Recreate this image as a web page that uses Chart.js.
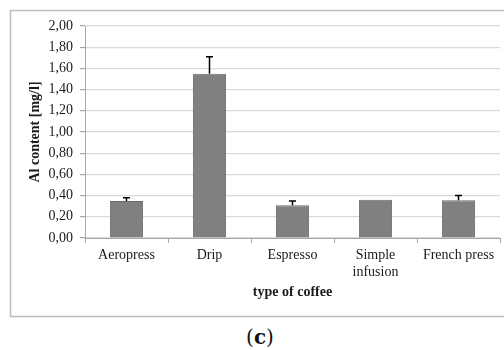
<!DOCTYPE html>
<html>
<head>
<meta charset="utf-8">
<script src="https://cdn.jsdelivr.net/npm/chart.js@4/dist/chart.umd.min.js"></script>
<style>
  html, body { margin: 0; padding: 0; background: #fff; }
  #wrap { position: relative; width: 504px; height: 350px; overflow: hidden; }
  #c { position: absolute; left: 0; top: 0; }
  #cap { position: absolute; left: 0; width: 520px; top: 325px; text-align: center; line-height: 24px;
         font-family: "DejaVu Serif", "Liberation Serif", serif; font-size: 20px; color: #111; }
  #cap b { font-weight: bold; }
</style>
</head>
<body>
<div id="wrap">
  <canvas id="c" width="504" height="318"></canvas>
  <div id="cap">(<b>c</b>)</div>
</div>
<script>
const categories = ["Aeropress", "Drip", "Espresso", ["Simple", "infusion"], "French press"];
const alContent = [0.35, 1.55, 0.31, 0.36, 0.355];
const alError = [0.03, 0.16, 0.04, 0, 0.045];
const yTicks = [0, 0.2, 0.4, 0.6, 0.8, 1.0, 1.2, 1.4, 1.6, 1.8, 2.0];

const serif = "'Liberation Serif', 'Times New Roman', serif";

const frame = {
  id: 'frame',
  beforeDraw(chart) {
    const ctx = chart.ctx;
    ctx.save();
    ctx.strokeStyle = '#bdbdbd';
    ctx.lineWidth = 1.5;
    ctx.strokeRect(10.5, 10.5, 510, 306);
    ctx.restore();
  }
};

const errorBars = {
  id: 'errorBars',
  afterDatasetsDraw(chart) {
    const ctx = chart.ctx;
    const meta = chart.getDatasetMeta(0);
    const y = chart.scales.y;
    ctx.save();
    ctx.strokeStyle = '#000';
    ctx.lineWidth = 1.5;
    meta.data.forEach((bar, i) => {
      const e = alError[i];
      if (!e) return;
      const top = y.getPixelForValue(alContent[i] + e);
      const base = y.getPixelForValue(alContent[i]);
      ctx.beginPath();
      ctx.moveTo(bar.x, base);
      ctx.lineTo(bar.x, top);
      ctx.moveTo(bar.x - 3.5, top);
      ctx.lineTo(bar.x + 3.5, top);
      ctx.stroke();
    });
    ctx.restore();
  }
};

new Chart(document.getElementById('c'), {
  type: 'bar',
  data: {
    labels: categories,
    datasets: [{
      data: alContent,
      backgroundColor: '#808080',
      borderColor: '#6c6c6c',
      borderWidth: 1,
      categoryPercentage: 1,
      barPercentage: 0.4
    }]
  },
  options: {
    responsive: false,
    animation: false,
    devicePixelRatio: 1,
    layout: { padding: { left: 0, top: 26, right: 4, bottom: 0 } },
    plugins: { legend: { display: false }, tooltip: { enabled: false } },
    scales: {
      x: {
        afterFit: s => { s.height = 80; },
        grid: { drawOnChartArea: false, offset: true, tickLength: 5, color: '#a6a6a6' },
        border: { color: '#a6a6a6' },
        ticks: { color: '#1a1a1a', font: { family: serif, size: 14, lineHeight: 1.2 }, padding: 4, maxRotation: 0 },
        title: { display: true, text: 'type of coffee', color: '#1a1a1a',
                 font: { family: serif, size: 14, weight: 'bold', lineHeight: 1.2 },
                 padding: { top: 0, bottom: 17 } }
      },
      y: {
        min: 0, max: 2,
        afterFit: s => { s.width = 85; },
        afterBuildTicks: s => { s.ticks = yTicks.map(v => ({ value: v })); },
        grid: { color: '#d9d9d9', lineWidth: 1.2, tickLength: 5, tickColor: '#a6a6a6' },
        border: { color: '#a6a6a6' },
        ticks: {
          color: '#1a1a1a', padding: 7,
          font: { family: serif, size: 14 },
          callback: v => Number(v).toFixed(2).replace('.', ',')
        },
        title: { display: true, text: 'Al content [mg/l]', color: '#1a1a1a',
                 font: { family: serif, size: 14, weight: 'bold', lineHeight: 1.2 },
                 padding: { top: 27, bottom: 0 } }
      }
    }
  },
  plugins: [frame, errorBars]
});
</script>
</body>
</html>
